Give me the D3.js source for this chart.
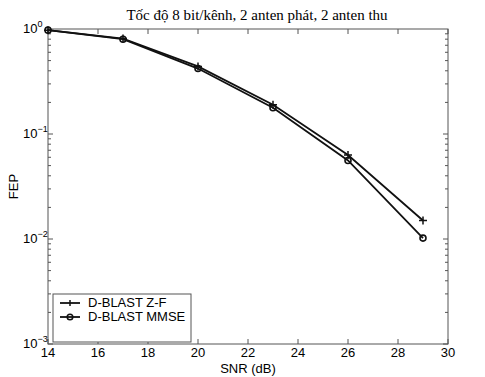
<!DOCTYPE html>
<html>
<head>
<meta charset="utf-8">
<script src="https://cdn.jsdelivr.net/npm/d3@7"></script>
<style>
body { margin: 0; background: #fff; }
</style>
</head>
<body>
<div class="content"></div>
<script>
const W = 485, H = 377;

const snr = [14, 17, 20, 23, 26, 29];
const fepZF = [0.975, 0.81, 0.44, 0.19, 0.063, 0.015];
const fepMMSE = [0.975, 0.80, 0.42, 0.178, 0.056, 0.0102];
const seriesNames = ["D-BLAST Z-F", "D-BLAST MMSE"];
const xTicks = [14, 16, 18, 20, 22, 24, 26, 28, 30];
const yDecades = [0, -1, -2, -3];

const svg = d3.select(".content").append("svg").attr("width", W).attr("height", H);
const m = {left: 48, right: 448, top: 29, bottom: 344};
const sans = "Liberation Sans, Arial, sans-serif";

let x = d3.scaleLinear().domain([14, 30]).range([m.left, m.right]);
let y = d3.scaleLog().domain([1e-3, 1]).range([m.bottom, m.top]);

const axisCol = "#555";

// frame
svg.append("rect")
    .attr("x", m.left).attr("y", m.top)
    .attr("width", m.right - m.left).attr("height", m.bottom - m.top)
    .attr("fill", "none").attr("stroke", axisCol).attr("stroke-width", 1);

// x ticks (bottom and top, inward)
let tg = svg.append("g").attr("stroke", axisCol).attr("stroke-width", 1);
xTicks.forEach(t => {
    tg.append("line").attr("x1", x(t)).attr("x2", x(t)).attr("y1", m.bottom).attr("y2", m.bottom - 5);
    tg.append("line").attr("x1", x(t)).attr("x2", x(t)).attr("y1", m.top).attr("y2", m.top + 5);
});
// y ticks, major + minor on both sides
for (let e = -3; e < 0; e++) {
    for (let k = 1; k <= 9; k++) {
        let v = k * Math.pow(10, e);
        let len = k === 1 ? 5 : 3;
        tg.append("line").attr("x1", m.left).attr("x2", m.left + len).attr("y1", y(v)).attr("y2", y(v));
        tg.append("line").attr("x1", m.right).attr("x2", m.right - len).attr("y1", y(v)).attr("y2", y(v));
    }
}

// x tick labels
svg.append("g").selectAll("text").data(xTicks).join("text")
    .attr("x", d => x(d)).attr("y", 357)
    .attr("text-anchor", "middle")
    .style("font-family", sans).style("font-size", "13px")
    .text(d => d);

// y tick labels 10^e
yDecades.forEach(e => {
    let t = svg.append("text")
        .attr("x", 23).attr("y", y(Math.pow(10, e)) + 4)
        .style("font-family", sans).style("font-size", "13px");
    t.append("tspan").text("10");
    t.append("tspan").attr("dy", -6).style("font-size", "9px").text(e === 0 ? "0" : "\u2212" + (-e));
});

// axis titles
svg.append("text").attr("x", (m.left + m.right) / 2).attr("y", 373)
    .attr("text-anchor", "middle")
    .style("font-family", sans).style("font-size", "13px")
    .text("SNR (dB)");
svg.append("text")
    .attr("transform", "translate(18," + (m.top + m.bottom) / 2 + ") rotate(-90)")
    .attr("text-anchor", "middle")
    .style("font-family", sans).style("font-size", "13px")
    .text("FEP");
svg.append("text").attr("x", 257).attr("y", 20)
    .attr("text-anchor", "middle")
    .style("font-family", "Liberation Serif, Times New Roman, serif").style("font-size", "15px")
    .text("Tốc độ 8 bit/kênh, 2 anten phát, 2 anten thu");

// lines
let line = d3.line().x(d => x(d[0])).y(d => y(d[1]));
let zf = snr.map((s, i) => [s, fepZF[i]]);
let mm = snr.map((s, i) => [s, fepMMSE[i]]);

[zf, mm].forEach(data => {
    svg.append("path").attr("d", line(data))
        .attr("fill", "none").attr("stroke", "#111").attr("stroke-width", 1.8);
});

// markers
svg.append("g").selectAll("path").data(zf).join("path")
    .attr("d", d => {
        let cx = x(d[0]), cy = y(d[1]);
        return `M${cx - 4},${cy}H${cx + 4}M${cx},${cy - 4}V${cy + 4}`;
    })
    .attr("stroke", "#111").attr("stroke-width", 1.5);
svg.append("g").selectAll("circle").data(mm).join("circle")
    .attr("cx", d => x(d[0])).attr("cy", d => y(d[1])).attr("r", 3)
    .attr("fill", "none").attr("stroke", "#111").attr("stroke-width", 1.6);

// legend
let lg = svg.append("g");
lg.append("rect").attr("x", 53).attr("y", 294).attr("width", 138).attr("height", 48)
    .attr("fill", "#fff").attr("stroke", axisCol).attr("stroke-width", 1);
seriesNames.forEach((name, i) => {
    let ly = 303 + i * 14;
    lg.append("line").attr("x1", 60).attr("x2", 80).attr("y1", ly).attr("y2", ly)
        .attr("stroke", "#111").attr("stroke-width", 1.8);
    if (i === 0) {
        lg.append("path").attr("d", `M70,${ly - 3}V${ly + 3}`).attr("stroke", "#111").attr("stroke-width", 1.5);
    } else {
        lg.append("circle").attr("cx", 70).attr("cy", ly).attr("r", 2.8)
            .attr("fill", "none").attr("stroke", "#111").attr("stroke-width", 1.5);
    }
    lg.append("text").attr("x", 88).attr("y", ly + 4)
        .style("font-family", sans).style("font-size", "13px")
        .text(name);
});
</script>
</body>
</html>
